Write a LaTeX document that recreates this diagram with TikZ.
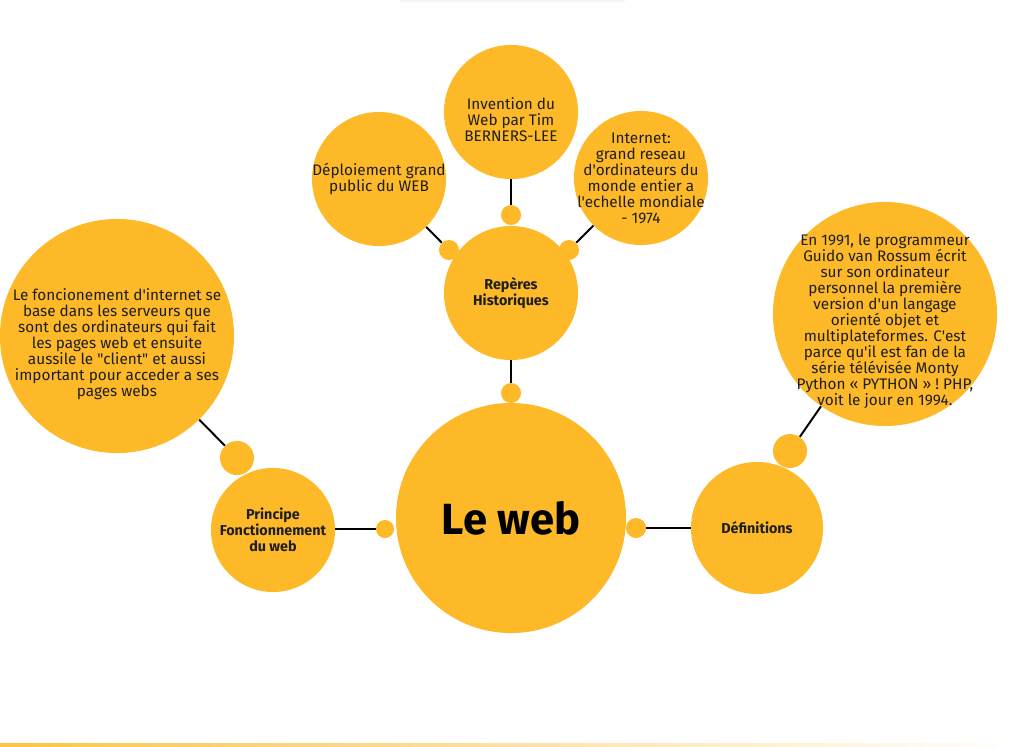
\documentclass[tikz,border=0pt]{standalone}
\usepackage{fontspec}
\newfontfamily\webfont{Fira Sans}
\usetikzlibrary{positioning}
\definecolor{webyellow}{RGB}{253,185,39}
\definecolor{webtext}{RGB}{30,30,30}
\begin{document}
\begin{tikzpicture}[x=0.025cm, y=-0.025cm,
			bubble/.style={circle, fill=webyellow, draw=none, minimum size=#1*0.05cm, inner sep=0pt},
			dot/.style={circle, fill=webyellow, minimum size=#1*0.05cm, inner sep=0pt},
			txt/.style={label={[align=center, text=webtext, font=\webfont\fontsize{10.9}{11.4}\selectfont]center:#1}},
			lbl/.style={label={[align=center, text=webtext, font=\webfont\fontsize{10.2}{11.4}\selectfont\bfseries]center:#1}},
			link/.style={draw=black, line width=1.4pt}]
			% Bildbereich
			\useasboundingbox[fill=white] (0,0) rectangle (1021,746);
			\fill[black!4] (400,0) rectangle (625,2);
			\shade[left color=webyellow!85, right color=white] (0,743) rectangle (1021,746);
			% Kreise
			\node[bubble=115, font=\webfont\fontsize{31}{31}\selectfont\bfseries, text=black] (web) at (511,518) {Le web};
			\node[bubble=67, lbl={Repères\\Historiques}] (reperes) at (511,293) {};
			\node[bubble=67, txt={\rule{0pt}{19pt}Invention du\\Web par Tim\\BERNERS-LEE}] (invention) at (511,112) {};
			\node[bubble=67, txt={Déploiement grand\\public du WEB}] (deploiement) at (379,179) {};
			\node[bubble=67, txt={Internet:\\grand reseau\\d'ordinateurs du\\monde entier a\\l'echelle mondiale\\- 1974}] (internet) at (641,178) {};
			\node[bubble=62, lbl={Principe\\Fonctionnement\\du web}] (principe) at (273,530) {};
			\node[bubble=66, lbl={Définitions}] (definitions) at (757,528) {};
			\node[bubble=117, txt={\rule{0pt}{20pt}Le foncionement d'internet se\\base dans les serveurs que\\sont des ordinateurs qui fait\\les pages web et ensuite\\aussile le "client" et aussi\\important pour acceder a ses\\pages webs}] (fonction) at (117,336) {};
			\node[bubble=112, txt={\rule{0pt}{19pt}En 1991, le programmeur\\Guido van Rossum écrit\\sur son ordinateur\\personnel la première\\version d'un langage\\orienté objet et\\multiplateformes. C'est\\parce qu'il est fan de la\\série télévisée Monty\\Python « PYTHON » ! PHP,\\voit le jour en 1994.}] (python) at (885,314) {};
			% Verbindungspunkte
			\node[dot=10] (dtop) at (511,393) {};
			\node[dot=9] (dleft) at (385,529) {};
			\node[dot=10] (dright) at (636,528) {};
			\node[dot=17] (dprinc) at (237,458) {};
			\node[dot=17] (ddef) at (790,451) {};
			\node[dot=10] (dinv) at (511,215) {};
			\node[dot=10] (ddep) at (449,250) {};
			\node[dot=10] (dint) at (569,250) {};
			% Verbindungen
			\draw[link] (dtop) -- (reperes);
			\draw[link] (dleft) -- (dleft -| principe.east);
			\draw[link] (dright) -- (definitions);
			\draw[link] (dprinc) -- (fonction);
			\draw[link] (ddef) -- (python);
			\draw[link] (dinv) -- (invention);
			\draw[link] (ddep) -- (deploiement);
			\draw[link] (dint) -- (internet);
		\end{tikzpicture}
\end{document}
